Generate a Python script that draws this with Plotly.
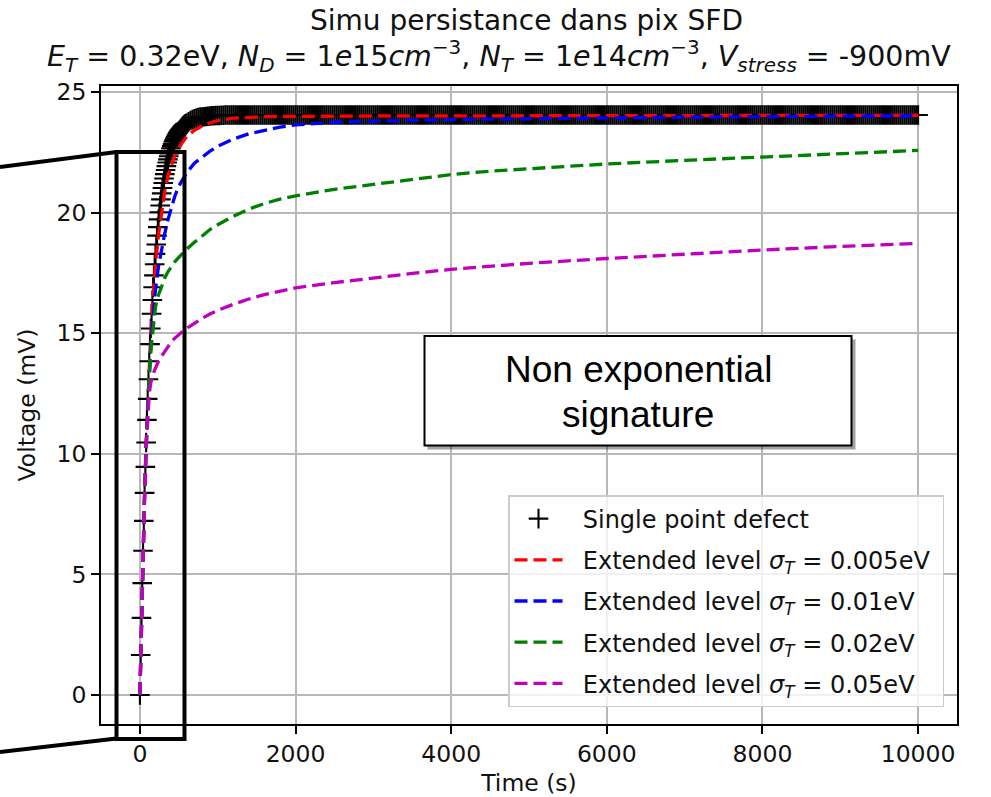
import plotly.graph_objects as go

# ---------------- data ----------------
# Single point defect (black "+" markers)
t_single = [
    0, 10, 20, 30, 40, 50, 60, 70, 80, 90,
    100, 110, 120, 130, 140, 150, 160, 170, 180, 190,
    200, 210, 220, 230, 240, 250, 260, 270, 280, 290,
    300, 310, 320, 330, 340, 350, 360, 370, 380, 390,
    400, 410, 420, 430, 440, 450, 460, 470, 480, 490,
    500, 510, 520, 530, 540, 550, 560, 570, 580, 590,
    600, 625, 650, 675, 700, 725, 750, 775, 800, 825,
    850, 875, 900, 925, 950, 975, 1000, 1025, 1050, 1075,

    1100, 1125, 1150, 1175, 1200, 1225, 1250, 1275,
    1300, 1325, 1350, 1375, 1400, 1425, 1450, 1475,
    1500, 1525, 1550, 1575, 1600, 1625, 1650, 1675,
    1700, 1725, 1750, 1775, 1800, 1825, 1850, 1875,
    1900, 1925, 1950, 1975, 2000, 2025, 2050, 2075,
    2100, 2125, 2150, 2175, 2200, 2225, 2250, 2275,
    2300, 2325, 2350, 2375, 2400, 2425, 2450, 2475,
    2500, 2525, 2550, 2575, 2600, 2625, 2650, 2675,
    2700, 2725, 2750, 2775, 2800, 2825, 2850, 2875,
    2900, 2925, 2950, 2975, 3000, 3025, 3050, 3075,
    3100, 3125, 3150, 3175, 3200, 3225, 3250, 3275,

    3300, 3325, 3350, 3375, 3400, 3425, 3450, 3475,
    3500, 3525, 3550, 3575, 3600, 3625, 3650, 3675,
    3700, 3725, 3750, 3775, 3800, 3825, 3850, 3875,
    3900, 3925, 3950, 3975, 4000, 4025, 4050, 4075,
    4100, 4125, 4150, 4175, 4200, 4225, 4250, 4275,
    4300, 4325, 4350, 4375, 4400, 4425, 4450, 4475,
    4500, 4525, 4550, 4575, 4600, 4625, 4650, 4675,
    4700, 4725, 4750, 4775, 4800, 4825, 4850, 4875,
    4900, 4925, 4950, 4975, 5000, 5025, 5050, 5075,
    5100, 5125, 5150, 5175, 5200, 5225, 5250, 5275,
    5300, 5325, 5350, 5375, 5400, 5425, 5450, 5475,

    5500, 5525, 5550, 5575, 5600, 5625, 5650, 5675,
    5700, 5725, 5750, 5775, 5800, 5825, 5850, 5875,
    5900, 5925, 5950, 5975, 6000, 6025, 6050, 6075,
    6100, 6125, 6150, 6175, 6200, 6225, 6250, 6275,
    6300, 6325, 6350, 6375, 6400, 6425, 6450, 6475,
    6500, 6525, 6550, 6575, 6600, 6625, 6650, 6675,
    6700, 6725, 6750, 6775, 6800, 6825, 6850, 6875,
    6900, 6925, 6950, 6975, 7000, 7025, 7050, 7075,
    7100, 7125, 7150, 7175, 7200, 7225, 7250, 7275,
    7300, 7325, 7350, 7375, 7400, 7425, 7450, 7475,
    7500, 7525, 7550, 7575, 7600, 7625, 7650, 7675,

    7700, 7725, 7750, 7775, 7800, 7825, 7850, 7875,
    7900, 7925, 7950, 7975, 8000, 8025, 8050, 8075,
    8100, 8125, 8150, 8175, 8200, 8225, 8250, 8275,
    8300, 8325, 8350, 8375, 8400, 8425, 8450, 8475,
    8500, 8525, 8550, 8575, 8600, 8625, 8650, 8675,
    8700, 8725, 8750, 8775, 8800, 8825, 8850, 8875,
    8900, 8925, 8950, 8975, 9000, 9025, 9050, 9075,
    9100, 9125, 9150, 9175, 9200, 9225, 9250, 9275,
    9300, 9325, 9350, 9375, 9400, 9425, 9450, 9475,
    9500, 9525, 9550, 9575, 9600, 9625, 9650, 9675,
    9700, 9725, 9750, 9775, 9800, 9825, 9850, 9875,

    9900, 9925, 9950, 9975, 10000,
]
v_single = [
    0.0, 1.66, 3.20, 4.64, 5.98, 7.22, 8.38, 9.46, 10.47, 11.41,
    12.28, 13.09, 13.84, 14.55, 15.20, 15.81, 16.38, 16.91, 17.40, 17.86,
    18.29, 18.68, 19.05, 19.40, 19.72, 20.02, 20.30, 20.55, 20.80, 21.02,
    21.23, 21.42, 21.60, 21.77, 21.93, 22.08, 22.21, 22.34, 22.46, 22.57,
    22.67, 22.76, 22.85, 22.94, 23.01, 23.08, 23.15, 23.21, 23.27, 23.32,
    23.37, 23.42, 23.46, 23.50, 23.54, 23.58, 23.61, 23.64, 23.67, 23.69,
    23.72, 23.77, 23.82, 23.86, 23.89, 23.92, 23.94, 23.96, 23.97, 23.98,
    23.99, 24.00, 24.01, 24.02, 24.02, 24.03, 24.03, 24.03, 24.04, 24.04,

    24.05, 24.05, 24.05, 24.05, 24.05, 24.05, 24.05, 24.05,
    24.05, 24.05, 24.05, 24.05, 24.05, 24.05, 24.05, 24.05,
    24.05, 24.05, 24.05, 24.05, 24.05, 24.05, 24.05, 24.05,
    24.05, 24.05, 24.05, 24.05, 24.05, 24.05, 24.05, 24.05,
    24.05, 24.05, 24.05, 24.05, 24.05, 24.05, 24.05, 24.05,
    24.05, 24.05, 24.05, 24.05, 24.05, 24.05, 24.05, 24.05,
    24.05, 24.05, 24.05, 24.05, 24.05, 24.05, 24.05, 24.05,
    24.05, 24.05, 24.05, 24.05, 24.05, 24.05, 24.05, 24.05,
    24.05, 24.05, 24.05, 24.05, 24.05, 24.05, 24.05, 24.05,
    24.05, 24.05, 24.05, 24.05, 24.05, 24.05, 24.05, 24.05,
    24.05, 24.05, 24.05, 24.05, 24.05, 24.05, 24.05, 24.05,

    24.05, 24.05, 24.05, 24.05, 24.05, 24.05, 24.05, 24.05,
    24.05, 24.05, 24.05, 24.05, 24.05, 24.05, 24.05, 24.05,
    24.05, 24.05, 24.05, 24.05, 24.05, 24.05, 24.05, 24.05,
    24.05, 24.05, 24.05, 24.05, 24.05, 24.05, 24.05, 24.05,
    24.05, 24.05, 24.05, 24.05, 24.05, 24.05, 24.05, 24.05,
    24.05, 24.05, 24.05, 24.05, 24.05, 24.05, 24.05, 24.05,
    24.05, 24.05, 24.05, 24.05, 24.05, 24.05, 24.05, 24.05,
    24.05, 24.05, 24.05, 24.05, 24.05, 24.05, 24.05, 24.05,
    24.05, 24.05, 24.05, 24.05, 24.05, 24.05, 24.05, 24.05,
    24.05, 24.05, 24.05, 24.05, 24.05, 24.05, 24.05, 24.05,
    24.05, 24.05, 24.05, 24.05, 24.05, 24.05, 24.05, 24.05,

    24.05, 24.05, 24.05, 24.05, 24.05, 24.05, 24.05, 24.05,
    24.05, 24.05, 24.05, 24.05, 24.05, 24.05, 24.05, 24.05,
    24.05, 24.05, 24.05, 24.05, 24.05, 24.05, 24.05, 24.05,
    24.05, 24.05, 24.05, 24.05, 24.05, 24.05, 24.05, 24.05,
    24.05, 24.05, 24.05, 24.05, 24.05, 24.05, 24.05, 24.05,
    24.05, 24.05, 24.05, 24.05, 24.05, 24.05, 24.05, 24.05,
    24.05, 24.05, 24.05, 24.05, 24.05, 24.05, 24.05, 24.05,
    24.05, 24.05, 24.05, 24.05, 24.05, 24.05, 24.05, 24.05,
    24.05, 24.05, 24.05, 24.05, 24.05, 24.05, 24.05, 24.05,
    24.05, 24.05, 24.05, 24.05, 24.05, 24.05, 24.05, 24.05,
    24.05, 24.05, 24.05, 24.05, 24.05, 24.05, 24.05, 24.05,

    24.05, 24.05, 24.05, 24.05, 24.05, 24.05, 24.05, 24.05,
    24.05, 24.05, 24.05, 24.05, 24.05, 24.05, 24.05, 24.05,
    24.05, 24.05, 24.05, 24.05, 24.05, 24.05, 24.05, 24.05,
    24.05, 24.05, 24.05, 24.05, 24.05, 24.05, 24.05, 24.05,
    24.05, 24.05, 24.05, 24.05, 24.05, 24.05, 24.05, 24.05,
    24.05, 24.05, 24.05, 24.05, 24.05, 24.05, 24.05, 24.05,
    24.05, 24.05, 24.05, 24.05, 24.05, 24.05, 24.05, 24.05,
    24.05, 24.05, 24.05, 24.05, 24.05, 24.05, 24.05, 24.05,
    24.05, 24.05, 24.05, 24.05, 24.05, 24.05, 24.05, 24.05,
    24.05, 24.05, 24.05, 24.05, 24.05, 24.05, 24.05, 24.05,
    24.05, 24.05, 24.05, 24.05, 24.05, 24.05, 24.05, 24.05,

    24.05, 24.05, 24.05, 24.05, 24.05,
]

# Extended level curves (dashed)
t_ext = [0, 20, 40, 60, 80, 100, 120, 140, 160, 180,
         200, 240, 280, 320, 360, 400, 450, 500, 550, 600,
         700, 800, 900, 1000, 1200, 1400, 1600, 1800, 2000, 2500,
         3000, 3500, 4000, 4500, 5000, 6000, 7000, 8000, 9000, 10000]
v_sig_005 = [0, 3.20, 5.97, 8.37, 10.43, 12.20, 13.70, 15.00, 16.10, 17.05,
             17.85, 19.10, 20.10, 20.90, 21.50, 21.95, 22.40, 22.70, 22.95, 23.15,
             23.42, 23.60, 23.73, 23.82, 23.92, 23.96, 23.98, 23.99, 24.00, 24.00,
             24.01, 24.01, 24.02, 24.02, 24.02, 24.03, 24.03, 24.04, 24.04, 24.04]
v_sig_01 = [0, 3.20, 5.96, 8.32, 10.32, 11.95, 13.30, 14.40, 15.35, 16.15,
            16.80, 17.80, 18.50, 19.15, 19.70, 20.20, 20.70, 21.10, 21.40, 21.65,
            22.05, 22.30, 22.55, 22.75, 23.05, 23.27, 23.42, 23.55, 23.64, 23.75,
            23.80, 23.84, 23.86, 23.88, 23.90, 23.93, 23.96, 23.98, 24.00, 24.02]
v_sig_02 = [0, 3.20, 5.94, 8.30, 10.25, 12.00, 13.30, 14.25, 15.00, 15.60,
            16.10, 16.60, 17.00, 17.30, 17.55, 17.75, 17.97, 18.15, 18.32, 18.48,
            18.77, 19.05, 19.30, 19.50, 19.85, 20.15, 20.38, 20.56, 20.70, 20.97,
            21.18, 21.40, 21.58, 21.72, 21.83, 22.02, 22.17, 22.31, 22.45, 22.58]
v_sig_05 = [0, 3.19, 5.90, 8.15, 10.20, 11.70, 12.50, 12.95, 13.20, 13.40,
            13.55, 13.85, 14.05, 14.25, 14.45, 14.63, 14.80, 14.95, 15.08, 15.20,
            15.42, 15.62, 15.80, 15.95, 16.20, 16.42, 16.60, 16.75, 16.88, 17.10,
            17.30, 17.48, 17.65, 17.78, 17.90, 18.10, 18.28, 18.45, 18.60, 18.73]

NB = "\u00a0"
series_names = [
    NB + NB + "Single point defect",
    NB + NB + "Extended level <i>σ</i><sub><i>T</i></sub> = 0.005eV" + NB,
    NB + NB + "Extended level <i>σ</i><sub><i>T</i></sub> = 0.01eV",
    NB + NB + "Extended level <i>σ</i><sub><i>T</i></sub> = 0.02eV",
    NB + NB + "Extended level <i>σ</i><sub><i>T</i></sub> = 0.05eV",
]
ext_colors = ["#ff0000", "#0000ff", "#008000", "#bf00bf"]
x_ticks = [0, 2000, 4000, 6000, 8000, 10000]
y_ticks = [0, 5, 10, 15, 20, 25]

title_1 = "Simu persistance dans pix SFD"
title_2 = ("<i>E</i><sub><i>T</i></sub> = 0.32eV, "
           "<i>N</i><sub><i>D</i></sub> = 1<i>e</i>15<i>cm</i><sup>−3</sup>, "
           "<i>N</i><sub><i>T</i></sub> = 1<i>e</i>14<i>cm</i><sup>−3</sup>, "
           "<i>V</i><sub><i>stress</i></sub> = -900mV")
box_lines = ["Non exponential", "signature"]

# ---------------- layout geometry (pixels) ----------------
W, H = 991, 797
L, R, T, B = 101, 957, 86, 724
FONT = "DejaVu Sans"


def px(xp):
    return (xp - L) / (R - L)


def py(yp):
    return (B - yp) / (B - T)


fig = go.Figure()

fig.add_trace(go.Scatter(
    x=t_single, y=v_single, mode="markers", name=series_names[0],
    legendgroup="g0",
    marker=dict(symbol="cross-thin", size=14, color="black",
                line=dict(color="black", width=2.1)),
))
for i, (vals, col) in enumerate(zip([v_sig_005, v_sig_01, v_sig_02, v_sig_05], ext_colors)):
    fig.add_trace(go.Scatter(
        x=t_ext, y=vals, mode="lines", name=series_names[i + 1],
        legendgroup="g%d" % (i + 1),
        line=dict(color=col, width=3.3, dash="13px,6px"),
    ))

shapes = []
# zoom rectangle and its connecting lines
zk = dict(color="black", width=4)
shapes.append(dict(type="rect", xref="paper", yref="paper",
                   x0=px(116.5), x1=px(184.5), y0=py(739), y1=py(152), line=zk))
shapes.append(dict(type="line", xref="paper", yref="paper",
                   x0=px(0), y0=py(167), x1=px(116.5), y1=py(152), line=zk))
shapes.append(dict(type="line", xref="paper", yref="paper",
                   x0=px(0), y0=py(752), x1=px(116.5), y1=py(738.5), line=zk))
# text box with shadow
shapes.append(dict(type="rect", xref="paper", yref="paper",
                   x0=px(427), x1=px(856), y0=py(450), y1=py(339),
                   fillcolor="rgba(0,0,0,0.18)", line=dict(width=0)))
shapes.append(dict(type="rect", xref="paper", yref="paper",
                   x0=px(428), x1=px(855), y0=py(449), y1=py(340),
                   fillcolor="rgba(0,0,0,0.22)", line=dict(width=0)))
shapes.append(dict(type="rect", xref="paper", yref="paper",
                   x0=px(424.5), x1=px(851.5), y0=py(445.5), y1=py(336),
                   fillcolor="white", line=dict(color="black", width=2)))

annotations = [
    dict(text=title_1, x=px(526.5), y=py(20), xref="paper", yref="paper",
         xanchor="center", yanchor="middle", showarrow=False,
         font=dict(family=FONT, size=28, color="#111111")),
    dict(text=title_2, x=px(498.5), y=py(56), xref="paper", yref="paper",
         xanchor="center", yanchor="middle", showarrow=False,
         font=dict(family=FONT, size=28.5, color="#111111")),
    dict(text=box_lines[0], x=px(638), y=py(369), xref="paper", yref="paper",
         xanchor="center", yanchor="middle", showarrow=False,
         font=dict(family="Liberation Sans", size=37, color="black")),
    dict(text=box_lines[1], x=px(638), y=py(414), xref="paper", yref="paper",
         xanchor="center", yanchor="middle", showarrow=False,
         font=dict(family="Liberation Sans", size=37, color="black")),
]

axis_common = dict(
    showline=True, linecolor="black", linewidth=1.9, mirror=True,
    ticks="outside", ticklen=8, tickwidth=1.9, tickcolor="black",
    showgrid=True, gridcolor="#b8b8b8", gridwidth=1.9, zeroline=False,
    tickfont=dict(family=FONT, size=23.5, color="#111111"),
    exponentformat="none", separatethousands=False, automargin=False,
)

fig.update_layout(
    width=W, height=H, autosize=False,
    margin=dict(l=L, r=W - R, t=T, b=H - B, pad=0),
    paper_bgcolor="white", plot_bgcolor="white",
    font=dict(family=FONT, size=23.5, color="#111111"),
    xaxis=dict(range=[-500, 10500], tickvals=x_ticks,
               ticktext=[str(v) for v in x_ticks],
               title=dict(text="Time (s)", standoff=12,
                          font=dict(family=FONT, size=23.5, color="#111111")),
               **axis_common),
    yaxis=dict(range=[-1.2025, 25.2525], tickvals=y_ticks,
               ticktext=[str(v) for v in y_ticks],
               title=dict(text="Voltage (mV)", standoff=14,
                          font=dict(family=FONT, size=23.5, color="#111111")),
               **axis_common),
    legend=dict(x=px(944), y=py(707), xanchor="right", yanchor="bottom",
                bgcolor="rgba(255,255,255,0.8)", bordercolor="#cccccc",
                borderwidth=1.5, font=dict(family=FONT, size=24, color="#111111"),
                tracegroupgap=7, itemwidth=48, traceorder="grouped"),
    shapes=shapes,
    annotations=annotations,
    showlegend=True,
)

fig.write_html("out.html", config={"displayModeBar": False})
